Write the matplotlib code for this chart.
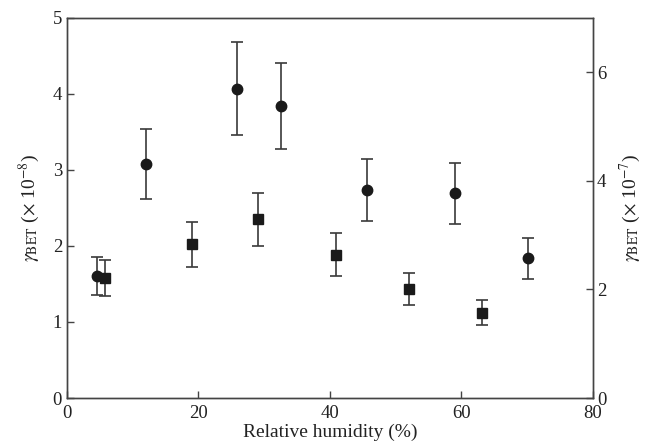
import matplotlib
matplotlib.use("Agg")
import matplotlib.pyplot as plt

# Circles (left axis, x10^-8)
circ_x = [4.5, 12.1, 25.9, 32.6, 45.7, 59.1, 70.1]
circ_y = [1.61, 3.08, 4.07, 3.84, 2.74, 2.69, 1.84]
circ_err = [0.25, 0.46, 0.61, 0.57, 0.41, 0.40, 0.27]

# Squares (right axis, x10^-7)
sq_x = [5.8, 19.1, 29.1, 41.0, 52.1, 63.2]
sq_y = [2.21, 2.83, 3.29, 2.64, 2.01, 1.57]
sq_err = [0.33, 0.42, 0.49, 0.40, 0.30, 0.23]

x_ticks = [0, 20, 40, 60, 80]
left_ticks = [0, 1, 2, 3, 4, 5]
right_ticks = [0, 2, 4, 6]

plt.rcParams['font.family'] = ['Liberation Serif', 'DejaVu Serif']
plt.rcParams['mathtext.fontset'] = 'stix'

fig = plt.figure(figsize=(6.5, 4.47), dpi=100)
ax = fig.add_axes([0.103, 0.1096, 0.809, 0.8504])
ax2 = ax.twinx()

ecol = '#3a3a3a'
ax.errorbar(circ_x, circ_y, yerr=circ_err, fmt='o', color='#1a1a1a',
            ecolor=ecol, elinewidth=1.2, capsize=4.5, capthick=1.2,
            markersize=7.5, zorder=3)
ax2.errorbar(sq_x, sq_y, yerr=sq_err, fmt='s', color='#1a1a1a',
             ecolor=ecol, elinewidth=1.2, capsize=4.5, capthick=1.2,
             markersize=6.5, zorder=3)

ax.set_xlim(0, 80)
ax.set_ylim(0, 5)
ax2.set_ylim(0, 7)
ax.set_xticks(x_ticks)
ax.set_yticks(left_ticks)
ax2.set_yticks(right_ticks)

for a in (ax, ax2):
    for s in a.spines.values():
        s.set_color('#444444')
        s.set_linewidth(1.0)
ax.tick_params(direction='in', length=5, width=1, colors='#444444',
               labelcolor='#222222', labelsize=13.5, top=False, right=False)
ax.tick_params(axis='x', pad=5)
ax2.tick_params(direction='in', length=5, width=1, colors='#444444',
                labelcolor='#222222', labelsize=13.5, pad=3)

ax.set_xlabel('Relative humidity (%)', fontsize=14, color='#222222', labelpad=1)
ax.set_ylabel(r'$\gamma_{\rm BET}$ ($\times$ 10$^{-8}$)', fontsize=14,
              color='#222222', labelpad=8)
ax2.set_ylabel(r'$\gamma_{\rm BET}$ ($\times$ 10$^{-7}$)', fontsize=14,
               color='#222222', rotation=90, labelpad=8)

fig.savefig('out.png', dpi=100)
